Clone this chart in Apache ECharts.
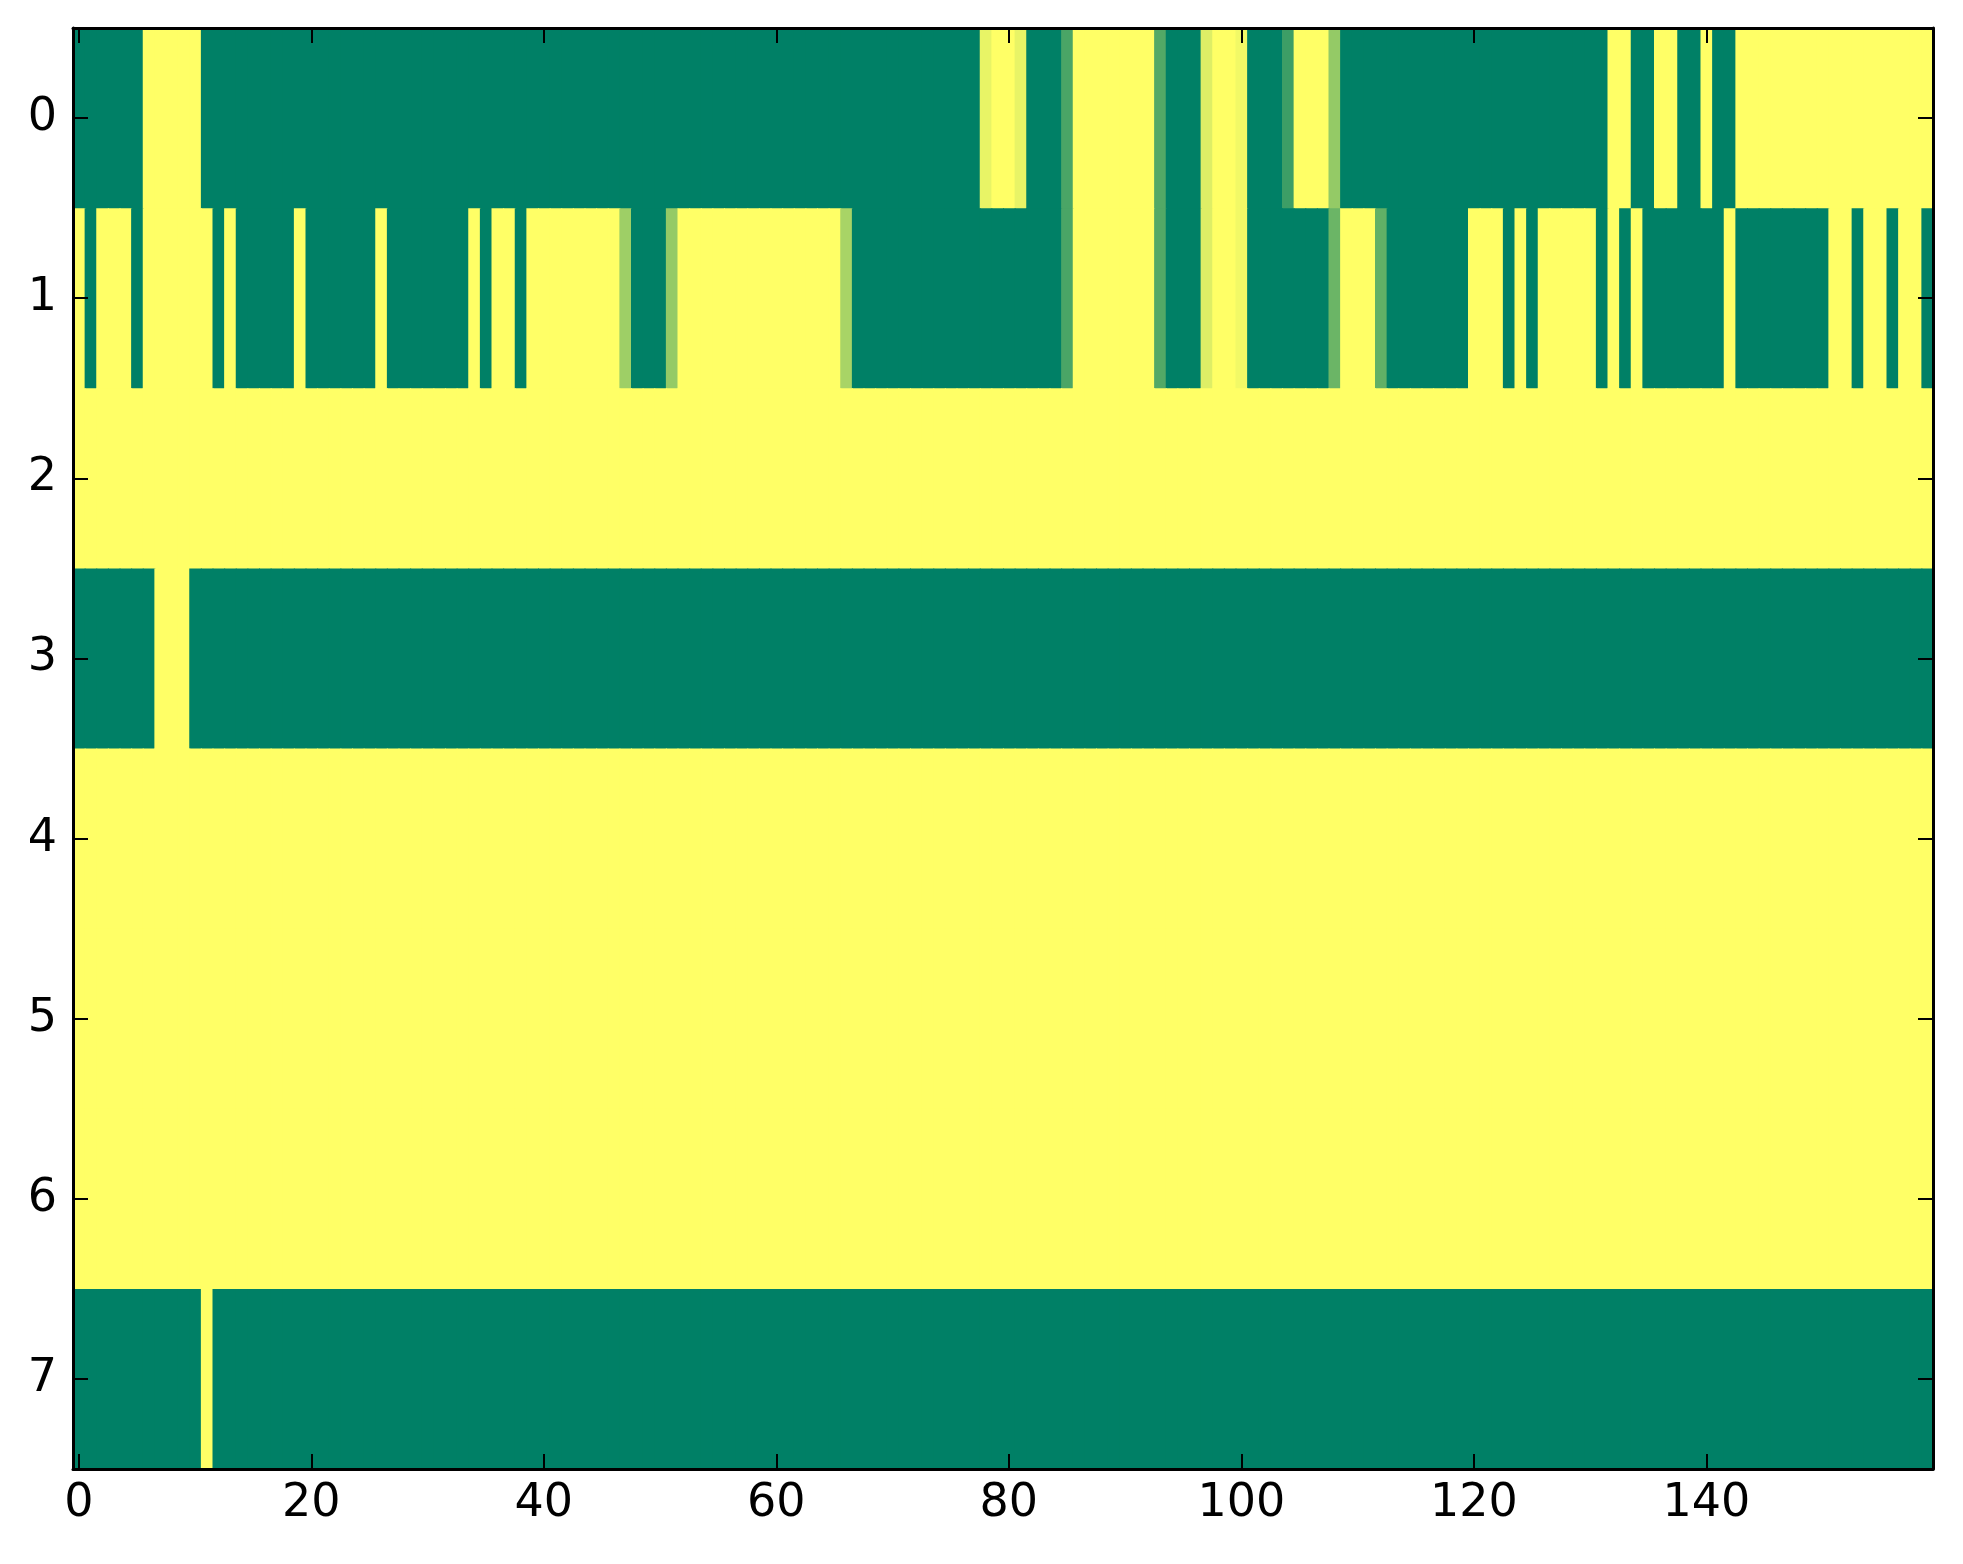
<!DOCTYPE html>
<html>
<head>
<meta charset="utf-8">
<script src="https://cdn.jsdelivr.net/npm/echarts@6/dist/echarts.min.js"></script>
<style>
html,body{margin:0;padding:0;background:#fff;}
#chart{width:1963px;height:1564px;}
</style>
</head>
<body>
<div id="chart"></div>
<script>
// Column categories (0..159) and row categories (0..7)
const xCategories = Array.from({length: 160}, (_, i) => String(i));
const yCategories = ['0', '1', '2', '3', '4', '5', '6', '7'];
const xTickLabels = ['0', '20', '40', '60', '80', '100', '120', '140'];

const row0 = [
  0,0,0,0,0,0,1,1,1,1,1,0,0,0,0,0,0,0,0,0,
  0,0,0,0,0,0,0,0,0,0,0,0,0,0,0,0,0,0,0,0,
  0,0,0,0,0,0,0,0,0,0,0,0,0,0,0,0,0,0,0,0,
  0,0,0,0,0,0,0,0,0,0,0,0,0,0,0,0,0,0,0.91,1,
  1,0.91,0,0,0,0.29,1,1,1,1,1,1,1,0.32,0,0,0,0.87,1,1,
  0.95,0,0,0,0.24,1,1,1,0.58,0,0,0,0,0,0,0,0,0,0,0,
  0,0,0,0,0,0,0,0,0,0,0,0,1,1,0,0,1,1,0,0,
  1,0,0,1,1,1,1,1,1,1,1,1,1,1,1,1,1,1,1,1
];
const row1 = [
  1,0,1,1,1,0,1,1,1,1,1,1,0,1,0,0,0,0,0,1,
  0,0,0,0,0,0,1,0,0,0,0,0,0,0,1,0,1,1,0,1,
  1,1,1,1,1,1,1,0.62,0,0,0,0.58,1,1,1,1,1,1,1,1,
  1,1,1,1,1,1,0.66,0,0,0,0,0,0,0,0,0,0,0,0,0,
  0,0,0,0,0,0.29,1,1,1,1,1,1,1,0.32,0,0,0,0.87,1,1,
  0.95,0,0,0,0,0,0,0,0.42,1,1,1,0.38,0,0,0,0,0,0,0,
  1,1,1,0,1,0,1,1,1,1,1,0,1,0,1,0,0,0,0,0,
  0,0,1,0,0,0,0,0,0,0,0,1,1,0,1,1,0,1,1,0
];
const row2 = [
  1,1,1,1,1,1,1,1,1,1,1,1,1,1,1,1,1,1,1,1,
  1,1,1,1,1,1,1,1,1,1,1,1,1,1,1,1,1,1,1,1,
  1,1,1,1,1,1,1,1,1,1,1,1,1,1,1,1,1,1,1,1,
  1,1,1,1,1,1,1,1,1,1,1,1,1,1,1,1,1,1,1,1,
  1,1,1,1,1,1,1,1,1,1,1,1,1,1,1,1,1,1,1,1,
  1,1,1,1,1,1,1,1,1,1,1,1,1,1,1,1,1,1,1,1,
  1,1,1,1,1,1,1,1,1,1,1,1,1,1,1,1,1,1,1,1,
  1,1,1,1,1,1,1,1,1,1,1,1,1,1,1,1,1,1,1,1
];
const row3 = [
  0,0,0,0,0,0,0,1,1,1,0,0,0,0,0,0,0,0,0,0,
  0,0,0,0,0,0,0,0,0,0,0,0,0,0,0,0,0,0,0,0,
  0,0,0,0,0,0,0,0,0,0,0,0,0,0,0,0,0,0,0,0,
  0,0,0,0,0,0,0,0,0,0,0,0,0,0,0,0,0,0,0,0,
  0,0,0,0,0,0,0,0,0,0,0,0,0,0,0,0,0,0,0,0,
  0,0,0,0,0,0,0,0,0,0,0,0,0,0,0,0,0,0,0,0,
  0,0,0,0,0,0,0,0,0,0,0,0,0,0,0,0,0,0,0,0,
  0,0,0,0,0,0,0,0,0,0,0,0,0,0,0,0,0,0,0,0
];
const row4 = [
  1,1,1,1,1,1,1,1,1,1,1,1,1,1,1,1,1,1,1,1,
  1,1,1,1,1,1,1,1,1,1,1,1,1,1,1,1,1,1,1,1,
  1,1,1,1,1,1,1,1,1,1,1,1,1,1,1,1,1,1,1,1,
  1,1,1,1,1,1,1,1,1,1,1,1,1,1,1,1,1,1,1,1,
  1,1,1,1,1,1,1,1,1,1,1,1,1,1,1,1,1,1,1,1,
  1,1,1,1,1,1,1,1,1,1,1,1,1,1,1,1,1,1,1,1,
  1,1,1,1,1,1,1,1,1,1,1,1,1,1,1,1,1,1,1,1,
  1,1,1,1,1,1,1,1,1,1,1,1,1,1,1,1,1,1,1,1
];
const row5 = [
  1,1,1,1,1,1,1,1,1,1,1,1,1,1,1,1,1,1,1,1,
  1,1,1,1,1,1,1,1,1,1,1,1,1,1,1,1,1,1,1,1,
  1,1,1,1,1,1,1,1,1,1,1,1,1,1,1,1,1,1,1,1,
  1,1,1,1,1,1,1,1,1,1,1,1,1,1,1,1,1,1,1,1,
  1,1,1,1,1,1,1,1,1,1,1,1,1,1,1,1,1,1,1,1,
  1,1,1,1,1,1,1,1,1,1,1,1,1,1,1,1,1,1,1,1,
  1,1,1,1,1,1,1,1,1,1,1,1,1,1,1,1,1,1,1,1,
  1,1,1,1,1,1,1,1,1,1,1,1,1,1,1,1,1,1,1,1
];
const row6 = [
  1,1,1,1,1,1,1,1,1,1,1,1,1,1,1,1,1,1,1,1,
  1,1,1,1,1,1,1,1,1,1,1,1,1,1,1,1,1,1,1,1,
  1,1,1,1,1,1,1,1,1,1,1,1,1,1,1,1,1,1,1,1,
  1,1,1,1,1,1,1,1,1,1,1,1,1,1,1,1,1,1,1,1,
  1,1,1,1,1,1,1,1,1,1,1,1,1,1,1,1,1,1,1,1,
  1,1,1,1,1,1,1,1,1,1,1,1,1,1,1,1,1,1,1,1,
  1,1,1,1,1,1,1,1,1,1,1,1,1,1,1,1,1,1,1,1,
  1,1,1,1,1,1,1,1,1,1,1,1,1,1,1,1,1,1,1,1
];
const row7 = [
  0,0,0,0,0,0,0,0,0,0,0,1,0,0,0,0,0,0,0,0,
  0,0,0,0,0,0,0,0,0,0,0,0,0,0,0,0,0,0,0,0,
  0,0,0,0,0,0,0,0,0,0,0,0,0,0,0,0,0,0,0,0,
  0,0,0,0,0,0,0,0,0,0,0,0,0,0,0,0,0,0,0,0,
  0,0,0,0,0,0,0,0,0,0,0,0,0,0,0,0,0,0,0,0,
  0,0,0,0,0,0,0,0,0,0,0,0,0,0,0,0,0,0,0,0,
  0,0,0,0,0,0,0,0,0,0,0,0,0,0,0,0,0,0,0,0,
  0,0,0,0,0,0,0,0,0,0,0,0,0,0,0,0,0,0,0,0
];

const rows = [row0, row1, row2, row3, row4, row5, row6, row7];
const cells = [];
rows.forEach((r, y) => r.forEach((v, x) => cells.push([x, y, v])));

const FONT = 'DejaVu Sans';
const isTick = (i) => xTickLabels.indexOf(String(i)) >= 0;
const lineStyle = {color: '#000', width: 3};
const tickStyle = {color: '#000', width: 2};

function xAxisDef(pos, showLabel) {
  return {
    type: 'category', data: xCategories, position: pos, z: 10,
    axisLine: {show: true, lineStyle: lineStyle},
    axisTick: {show: true, inside: true, alignWithLabel: true, length: 15, interval: (i) => isTick(i), lineStyle: tickStyle},
    axisLabel: {show: showLabel, interval: (i) => isTick(i), fontSize: 46, color: '#000', fontFamily: FONT, margin: 12},
    splitLine: {show: false}, splitArea: {show: false}
  };
}
function yAxisDef(pos, showLabel) {
  return {
    type: 'category', data: yCategories, position: pos, inverse: true, z: 10,
    axisLine: {show: true, lineStyle: lineStyle},
    axisTick: {show: true, inside: true, alignWithLabel: true, length: 15, interval: 0, lineStyle: tickStyle},
    axisLabel: {show: showLabel, interval: 0, fontSize: 46, color: '#000', fontFamily: FONT, margin: 16},
    splitLine: {show: false}, splitArea: {show: false}
  };
}

function renderCell(params, api) {
  const p = api.coord([api.value(0), api.value(1)]);
  const s = api.size([1, 1]);
  return {
    type: 'rect',
    shape: {x: p[0] - s[0] / 2, y: p[1] - s[1] / 2, width: s[0] + 1, height: s[1] + 1},
    style: {fill: api.visual('color'), stroke: null},
    silent: true
  };
}

const chart = echarts.init(document.getElementById('chart'), null, {renderer: 'canvas'});
chart.setOption({
  animation: false,
  backgroundColor: '#fff',
  grid: {left: 73, top: 28, width: 1860, height: 1441, containLabel: false},
  xAxis: [xAxisDef('bottom', true), xAxisDef('top', false)],
  yAxis: [yAxisDef('left', true), yAxisDef('right', false)],
  visualMap: {show: false, min: 0, max: 1, dimension: 2, seriesIndex: 0, inRange: {color: ['#008066', '#ffff66']}},
  series: [{
    type: 'custom', xAxisIndex: 0, yAxisIndex: 0, data: cells,
    encode: {x: 0, y: 1},
    clip: true,
    renderItem: renderCell
  }]
});
</script>
</body>
</html>
